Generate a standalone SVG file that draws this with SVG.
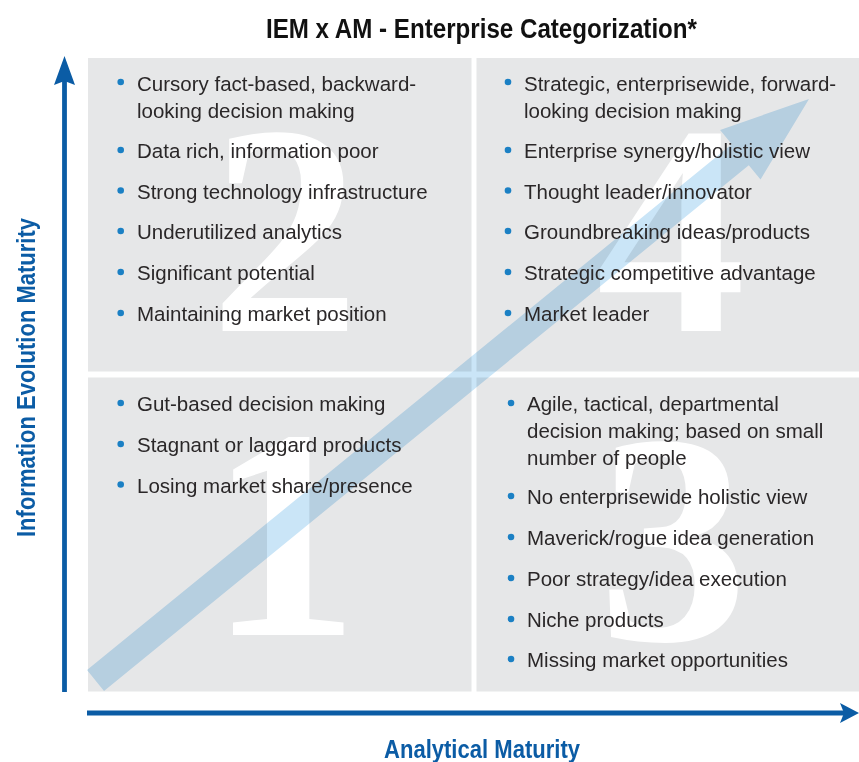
<svg xmlns="http://www.w3.org/2000/svg" width="859" height="762" viewBox="0 0 859 762">
<defs>
<style>
.q{fill:#e6e7e8}
.num{font-family:"Liberation Serif","Times New Roman",serif;font-weight:bold;font-size:300px;fill:#ffffff;text-anchor:middle}
.t{font-family:"Liberation Sans",Arial,sans-serif;font-size:20.5px;fill:#2a2728}
.dot{fill:#1b80c4}
.ax{font-family:"Liberation Sans Narrow","Liberation Sans",Arial,sans-serif;font-weight:bold;fill:#0b5ca5}
.title{font-family:"Liberation Sans Narrow","Liberation Sans",Arial,sans-serif;font-weight:bold;font-size:28px;fill:#111111}
.axis{stroke:#0b5ca5;stroke-width:4.8;fill:none}
.head{fill:#0b5ca5}
</style>
</defs>
<rect width="859" height="762" fill="#ffffff"/>
<text class="title" x="266" y="38" textLength="431" lengthAdjust="spacingAndGlyphs">IEM x AM - Enterprise Categorization*</text>

<g id="q2"><rect class="q" x="88" y="58" width="383.5" height="313.5"/><text class="num" x="285" y="331">2</text></g>
<g id="q4"><rect class="q" x="476.5" y="58" width="382.5" height="313.5"/><text class="num" x="671" y="331">4</text></g>
<g id="q1"><rect class="q" x="88" y="377.5" width="383.5" height="314"/><text class="num" x="284" y="635">1</text></g>
<g id="q3"><rect class="q" x="476.5" y="377.5" width="382.5" height="314"/><text class="num" x="673" y="640">3</text></g>

<g id="connectors">
<polygon points="87,670 104,691 748.8,165.2 760.5,179.5 809,99 720.1,129.9 731.8,144.2" fill="#cae5f7" style="mix-blend-mode:multiply"/>
<line class="axis" x1="64.5" y1="692" x2="64.5" y2="80"/>
<polygon class="head" points="64.5,56 75,85 64.5,81 54,85"/>
<line class="axis" x1="87" y1="713" x2="845" y2="713"/>
<polygon class="head" points="859,713 840,723 844,713 840,703"/>
</g>

<g id="q2-text">
<circle class="dot" cx="120.7" cy="82" r="3.3"/>
<text class="t" x="137" y="90.5">Cursory fact-based, backward-</text>
<text class="t" x="137" y="117.5">looking decision making</text>
<circle class="dot" cx="120.7" cy="150" r="3.3"/>
<text class="t" x="137" y="158">Data rich, information poor</text>
<circle class="dot" cx="120.7" cy="190.5" r="3.3"/>
<text class="t" x="137" y="198.5">Strong technology infrastructure</text>
<circle class="dot" cx="120.7" cy="231" r="3.3"/>
<text class="t" x="137" y="239">Underutilized analytics</text>
<circle class="dot" cx="120.7" cy="272" r="3.3"/>
<text class="t" x="137" y="280">Significant potential</text>
<circle class="dot" cx="120.7" cy="313" r="3.3"/>
<text class="t" x="137" y="321">Maintaining market position</text>
</g>

<g id="q4-text">
<circle class="dot" cx="508" cy="82" r="3.3"/>
<text class="t" x="524" y="90.5">Strategic, enterprisewide, forward-</text>
<text class="t" x="524" y="117.5">looking decision making</text>
<circle class="dot" cx="508" cy="150" r="3.3"/>
<text class="t" x="524" y="158">Enterprise synergy/holistic view</text>
<circle class="dot" cx="508" cy="190.5" r="3.3"/>
<text class="t" x="524" y="198.5">Thought leader/innovator</text>
<circle class="dot" cx="508" cy="231" r="3.3"/>
<text class="t" x="524" y="239">Groundbreaking ideas/products</text>
<circle class="dot" cx="508" cy="272" r="3.3"/>
<text class="t" x="524" y="280">Strategic competitive advantage</text>
<circle class="dot" cx="508" cy="313" r="3.3"/>
<text class="t" x="524" y="321">Market leader</text>
</g>

<g id="q1-text">
<circle class="dot" cx="120.7" cy="403" r="3.3"/>
<text class="t" x="137" y="411">Gut-based decision making</text>
<circle class="dot" cx="120.7" cy="444" r="3.3"/>
<text class="t" x="137" y="452">Stagnant or laggard products</text>
<circle class="dot" cx="120.7" cy="484.5" r="3.3"/>
<text class="t" x="137" y="492.5">Losing market share/presence</text>
</g>

<g id="q3-text">
<circle class="dot" cx="511" cy="403" r="3.3"/>
<text class="t" x="527" y="411">Agile, tactical, departmental</text>
<text class="t" x="527" y="438">decision making; based on small</text>
<text class="t" x="527" y="465">number of people</text>
<circle class="dot" cx="511" cy="496" r="3.3"/>
<text class="t" x="527" y="504">No enterprisewide holistic view</text>
<circle class="dot" cx="511" cy="537" r="3.3"/>
<text class="t" x="527" y="545">Maverick/rogue idea generation</text>
<circle class="dot" cx="511" cy="578" r="3.3"/>
<text class="t" x="527" y="586">Poor strategy/idea execution</text>
<circle class="dot" cx="511" cy="619" r="3.3"/>
<text class="t" x="527" y="627">Niche products</text>
<circle class="dot" cx="511" cy="659" r="3.3"/>
<text class="t" x="527" y="667">Missing market opportunities</text>
</g>

<text class="ax" x="384" y="758" font-size="25" textLength="196" lengthAdjust="spacingAndGlyphs">Analytical Maturity</text>
<text class="ax" transform="translate(35,537) rotate(-90)" x="0" y="0" font-size="25" textLength="319" lengthAdjust="spacingAndGlyphs">Information Evolution Maturity</text>
</svg>
